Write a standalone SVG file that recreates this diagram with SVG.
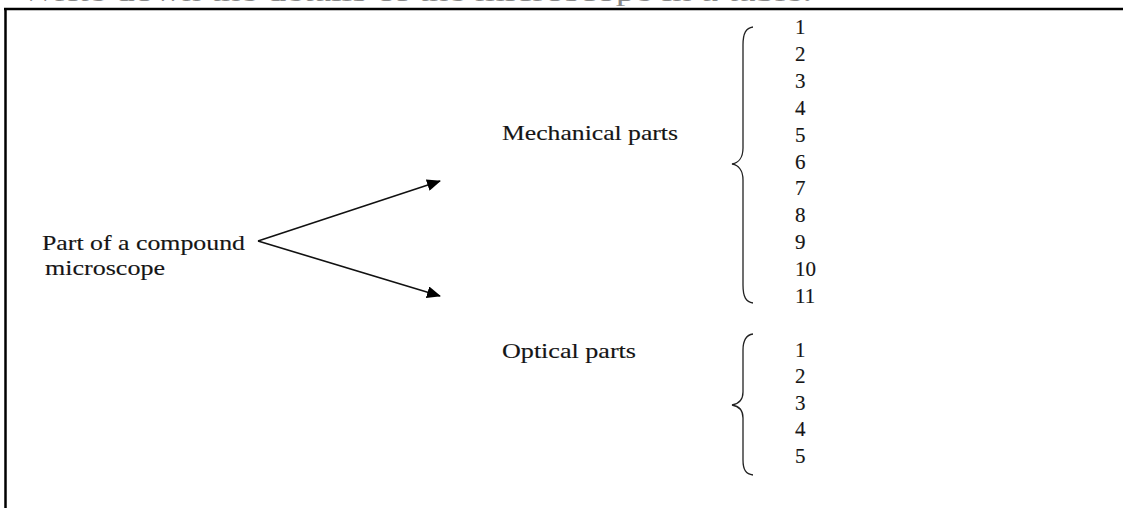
<svg xmlns="http://www.w3.org/2000/svg" width="1123" height="508" viewBox="0 0 1123 508">
<style>
text { font-family: "Liberation Serif", "Times New Roman", serif; fill: #151515; stroke: #151515; stroke-width: 0.15; }
.lbl { font-size: 21px; }
.num { font-size: 21px; }
.brace { fill: none; stroke: #222; stroke-width: 1.3; }
.conn { fill: none; stroke: #111; stroke-width: 1.6; }
.frame { fill: none; stroke: #000; stroke-width: 2.5; }
</style>
<defs>
<marker id="arr" viewBox="0 0 14 12" refX="13" refY="6" markerWidth="14" markerHeight="12" markerUnits="userSpaceOnUse" orient="auto">
<path d="M0,0 L14,6 L0,12 Z" fill="#000"/>
</marker>
</defs>
<rect width="1123" height="508" fill="#fff"/>
<text class="lbl" x="20" y="0.5" textLength="792" lengthAdjust="spacingAndGlyphs" style="font-size:26px;fill:#888;stroke:none">Write down the details of the microscope in a table.</text>
<g id="frame">
<line class="frame" x1="4" y1="9" x2="1123" y2="9"/>
<line class="frame" x1="5.5" y1="8" x2="5.5" y2="508"/>
</g>
<g id="connectors">
<line class="conn" x1="258" y1="241" x2="440" y2="181" marker-end="url(#arr)"/>
<line class="conn" x1="258" y1="241" x2="440" y2="296" marker-end="url(#arr)"/>
</g>
<g id="root">
<text class="lbl" x="42" y="250" textLength="203" lengthAdjust="spacingAndGlyphs">Part of a compound</text>
<text class="lbl" x="45" y="275" textLength="120" lengthAdjust="spacingAndGlyphs">microscope</text>
</g>
<g id="mechanical">
<text class="lbl" x="502" y="140" textLength="176" lengthAdjust="spacingAndGlyphs">Mechanical parts</text>
<path class="brace" d="M753,27 C746,28 743,33 743,45 L743,148 C743,158 738,163 732,164 C738,165 743,170 743,180 L743,285 C743,297 746,302 753,303"/>
<text class="num" x="795" y="34.3">1</text>
<text class="num" x="795" y="61.1">2</text>
<text class="num" x="795" y="88">3</text>
<text class="num" x="795" y="114.8">4</text>
<text class="num" x="795" y="141.7">5</text>
<text class="num" x="795" y="168.5">6</text>
<text class="num" x="795" y="195.3">7</text>
<text class="num" x="795" y="222.2">8</text>
<text class="num" x="795" y="249">9</text>
<text class="num" x="795" y="275.9">10</text>
<text class="num" x="795" y="302.7">11</text>
</g>
<g id="optical">
<text class="lbl" x="502" y="358" textLength="134" lengthAdjust="spacingAndGlyphs">Optical parts</text>
<path class="brace" d="M753,334 C746,335 743,340 743,350 L743,392 C743,400 738,404 732,405 C738,406 743,410 743,418 L743,460 C743,470 746,474 753,475"/>
<text class="num" x="795" y="357">1</text>
<text class="num" x="795" y="383.4">2</text>
<text class="num" x="795" y="409.8">3</text>
<text class="num" x="795" y="436.2">4</text>
<text class="num" x="795" y="462.6">5</text>
</g>
</svg>
